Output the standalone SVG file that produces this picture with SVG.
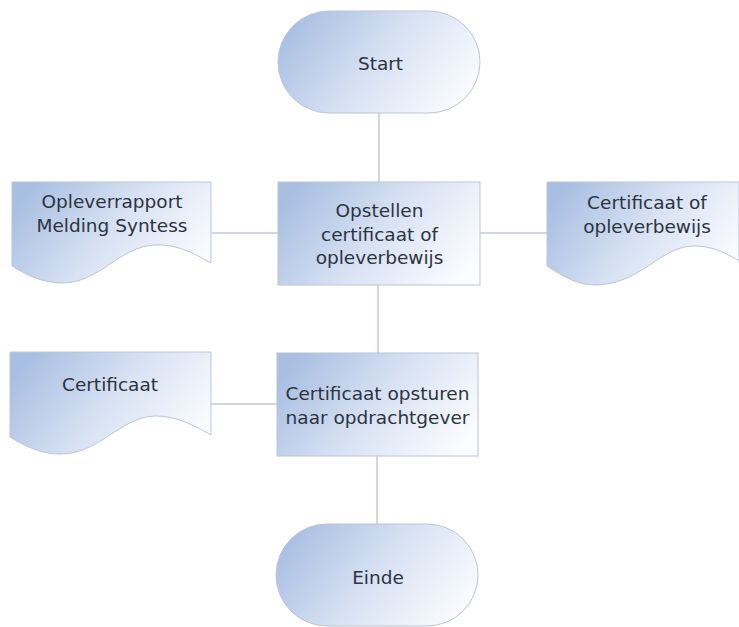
<svg xmlns="http://www.w3.org/2000/svg" width="739" height="627" viewBox="0 0 739 627">
<style>
.s{stroke:#bcc5d6;stroke-width:1}
.c{stroke:#c3c9d6;stroke-width:1.5;fill:none}
text{font-family:"DejaVu Sans",Verdana,sans-serif;font-size:18.5px;fill:#2c3440;text-anchor:middle}
</style>
<defs>
<linearGradient id="g" x1="0" y1="0.3" x2="1" y2="0.7"><stop offset="0" stop-color="#a9bfe2"/><stop offset="0.5" stop-color="#d8e2f3"/><stop offset="1" stop-color="#fbfcff"/></linearGradient>
</defs>
<rect width="739" height="627" fill="#fff"/>
<g id="connectors">
<path class="c" d="M379 113V182"/>
<path class="c" d="M212 233H278"/>
<path class="c" d="M480 233H547"/>
<path class="c" d="M378 285V353"/>
<path class="c" d="M211 404H277"/>
<path class="c" d="M377 456V524"/>
</g>
<g id="start"><rect class="s" x="278" y="11" width="202" height="102" rx="51" fill="url(#g)"/><text x="380.500" y="70">Start</text></g>
<g id="opleverrapport"><path class="s" fill="url(#g)" d="M12 182H211V263C190 251 175 244 155 245C120 246 100 283 62 283C42 283 25 274 12 266Z"/><text x="112" y="208">Opleverrapport</text><text x="112" y="232">Melding Syntess</text></g>
<g id="opstellen"><rect class="s" x="278" y="182" width="202" height="103" fill="url(#g)"/><text x="379.500" y="217">Opstellen</text><text x="379.500" y="241">certificaat of</text><text x="379.500" y="264">opleverbewijs</text></g>
<g id="certificaat-of"><path class="s" fill="url(#g)" d="M547 182H739V261C722 250 708 246 694 246C660 246 640 285 595 285C575 285 560 274 547 266Z"/><text x="647" y="209">Certificaat of</text><text x="647" y="233">opleverbewijs</text></g>
<g id="certificaat"><path class="s" fill="url(#g)" d="M10 352H211V435C190 423 175 416 155 416C120 417 100 454 60 454C40 454 23 445 10 437Z"/><text x="110" y="391">Certificaat</text></g>
<g id="opsturen"><rect class="s" x="277" y="353" width="201" height="103" fill="url(#g)"/><text x="377.500" y="400">Certificaat opsturen</text><text x="377.500" y="424">naar opdrachtgever</text></g>
<g id="einde"><rect class="s" x="276" y="524" width="202" height="102" rx="51" fill="url(#g)"/><text x="378" y="584">Einde</text></g>
</svg>
